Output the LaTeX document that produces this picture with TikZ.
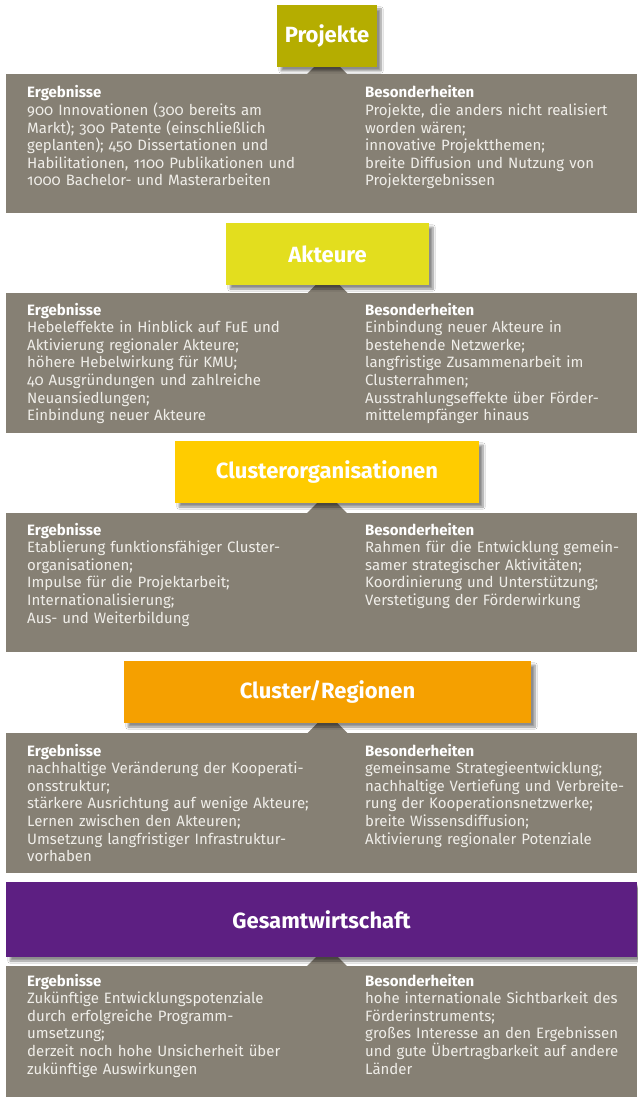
\documentclass[tikz,border=0pt]{standalone}
\usepackage{fontspec}
\setmainfont{Fira Sans}[Numbers=OldStyle]
\usetikzlibrary{shadows.blur}
\definecolor{panelgrey}{HTML}{868074}
\definecolor{paneltext}{HTML}{F0EEE9}
\definecolor{cprojekte}{HTML}{B5AD00}
\definecolor{cakteure}{HTML}{E3DE1E}
\definecolor{corga}{HTML}{FFCC00}
\definecolor{cregion}{HTML}{F5A000}
\definecolor{cgesamt}{HTML}{5D1F82}
\tikzset{
  hdr/.style={text=white, inner sep=0pt, minimum height=62pt,
    font=\fontsize{22}{26}\selectfont\bfseries,
    blur shadow={shadow xshift=4pt, shadow yshift=-4pt, shadow blur steps=8, shadow opacity=45}},
  panel/.style={fill=panelgrey, anchor=north west, inner sep=0pt, minimum width=631pt},
  col/.style={anchor=base west, inner sep=0pt, text width=290pt, align=left,
    text=paneltext, font=\fontsize{15}{17.6}\selectfont},
}
\newcommand{\colhead}[1]{{\color{white}\bfseries #1}}
\begin{document}
\begin{tikzpicture}[x=1pt,y=-1pt]
\useasboundingbox[fill=white] (0,0) rectangle (637,1097);
% panels
\node[panel, minimum height=139pt] (p1) at (6,74) {};
\node[panel, minimum height=140pt] (p2) at (6,293) {};
\node[panel, minimum height=139pt] (p3) at (6,513) {};
\node[panel, minimum height=140pt] (p4) at (6,733) {};
\node[panel, minimum height=131pt] (p5) at (6,966) {};
% header centres
\coordinate (c1) at (327,36);
\coordinate (c2) at (327.5,254);
\coordinate (c3) at (327,472);
\coordinate (c4) at (327.5,692);
\coordinate (c5) at (327,919.5);
% notches
\foreach \i in {1,...,5}{
  \fill[panelgrey] (c\i |- p\i.north) +(-20,0) -- +(0,-20) -- +(20,0) -- cycle;
}
% headers
\node[hdr, fill=cprojekte, minimum width=100pt] (h1) at (c1) {Projekte};
\node[hdr, fill=cakteure, minimum width=203pt] (h2) at (c2) {Akteure};
\node[hdr, fill=corga, minimum width=304pt] (h3) at (c3) {Clusterorganisationen};
\node[hdr, fill=cregion, minimum width=407pt] (h4) at (c4) {Cluster/Regionen};
\node[hdr, fill=cgesamt, minimum width=631pt, minimum height=75pt] (h5) at (321.5,919.5) {Gesamtwirtschaft};
% texts
\node[col] (l1) at (27,98) {\colhead{Ergebnisse}\\
900 Innovationen (300 bereits am\\
Markt); 300 Patente (einschließlich\\
geplanten); 450 Dissertationen und\\
Habilitationen, 1100 Publikationen und\\
1000 Bachelor- und Masterarbeiten};
\node[col] (r1) at (365,98) {\colhead{Besonderheiten}\\
Projekte, die anders nicht realisiert\\
worden wären;\\
innovative Projektthemen;\\
breite Diffusion und Nutzung von\\
Projektergebnissen};
\node[col] (l2) at (27,315) {\colhead{Ergebnisse}\\
Hebeleffekte in Hinblick auf FuE und\\
Aktivierung regionaler Akteure;\\
höhere Hebelwirkung für KMU;\\
40 Ausgründungen und zahlreiche\\
Neuansiedlungen;\\
Einbindung neuer Akteure};
\node[col] (r2) at (365,315) {\colhead{Besonderheiten}\\
Einbindung neuer Akteure in\\
bestehende Netzwerke;\\
langfristige Zusammenarbeit im\\
Clusterrahmen;\\
Ausstrahlungseffekte über Förder-\\
mittelempfänger hinaus};
\node[col] (l3) at (27,535) {\colhead{Ergebnisse}\\
Etablierung funktionsfähiger Cluster-\\
organisationen;\\
Impulse für die Projektarbeit;\\
Internationalisierung;\\
Aus- und Weiterbildung};
\node[col] (r3) at (365,535) {\colhead{Besonderheiten}\\
Rahmen für die Entwicklung gemein-\\
samer strategischer Aktivitäten;\\
Koordinierung und Unterstützung;\\
Verstetigung der Förderwirkung};
\node[col] (l4) at (27,756) {\colhead{Ergebnisse}\\
nachhaltige Veränderung der Kooperati-\\
onsstruktur;\\
stärkere Ausrichtung auf wenige Akteure;\\
Lernen zwischen den Akteuren;\\
Umsetzung langfristiger Infrastruktur-\\
vorhaben};
\node[col] (r4) at (365,756) {\colhead{Besonderheiten}\\
gemeinsame Strategieentwicklung;\\
nachhaltige Vertiefung und Verbreite-\\
rung der Kooperationsnetzwerke;\\
breite Wissensdiffusion;\\
Aktivierung regionaler Potenziale};
\node[col] (l5) at (27,986) {\colhead{Ergebnisse}\\
Zukünftige Entwicklungspotenziale\\
durch erfolgreiche Programm-\\
umsetzung;\\
derzeit noch hohe Unsicherheit über\\
zukünftige Auswirkungen};
\node[col] (r5) at (365,986) {\colhead{Besonderheiten}\\
hohe internationale Sichtbarkeit des\\
Förderinstruments;\\
großes Interesse an den Ergebnissen\\
und gute Übertragbarkeit auf andere\\
Länder};
\end{tikzpicture}
\end{document}
